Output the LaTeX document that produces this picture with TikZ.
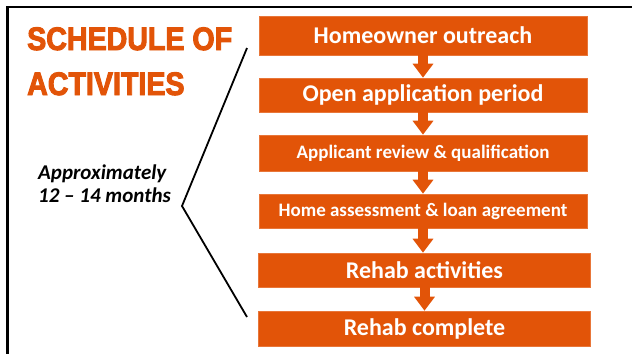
\documentclass[tikz,border=0pt]{standalone}
\usepackage{fontspec}
\setmainfont{Carlito}
\newfontfamily\headfont[FakeStretch=0.88,FakeBold=3]{Liberation Sans}
\usetikzlibrary{arrows.meta}
\definecolor{rust}{RGB}{226,84,8}
\begin{document}
\begin{tikzpicture}[x=1pt,y=-1pt,
  stage/.style={fill=rust,draw=rust!80!white,line width=0.6pt,text=white,
    font=\bfseries,minimum width=#1,inner sep=0pt,anchor=center},
  flow/.style={draw=rust,line width=10pt,-{Triangle[width=20pt,length=14pt]}},
  title/.style={text=rust,font=\headfont\bfseries\fontsize{32.5}{32}\selectfont,
    inner sep=0pt,anchor=base west},
  brace/.style={draw=black,line width=1.8pt,line join=miter}]
\useasboundingbox (0,0) rectangle (632,354);
% frame along the top and left edges
\draw[line width=2.6pt] (632,7) -- (7.5,7) -- (7.5,354);
% heading
\node[title] (h1) at (27,50) {SCHEDULE OF};
\node[title] (h2) at (27,95) {ACTIVITIES};
% stages
\node[stage=328pt,minimum height=39pt] (s1) at (423,35.5)
  {\fontsize{24}{24}\selectfont Homeowner outreach};
\node[stage=328pt,minimum height=34pt] (s2) at (423,95)
  {\fontsize{24}{24}\selectfont Open application period};
\node[stage=328pt,minimum height=36pt] (s3) at (423,153)
  {\fontsize{19}{19}\selectfont Applicant review \& qualification};
\node[stage=328pt,minimum height=34pt] (s4) at (423,211)
  {\fontsize{19}{19}\selectfont Home assessment \& loan agreement};
\node[stage=332pt,minimum height=34pt] (s5) at (424.5,270)
  {\fontsize{24}{24}\selectfont Rehab activities};
\node[stage=332pt,minimum height=35pt] (s6) at (424.5,328.5)
  {\fontsize{24}{24}\selectfont Rehab complete};
% arrows between stages
\foreach \a/\b in {s1/s2,s2/s3,s3/s4,s4/s5,s5/s6}
  \draw[flow] (\a.south) -- (\a.south |- \b.north);
% duration bracket
\coordinate (bt) at (247,48);
\coordinate (bm) at (182,206);
\coordinate (bb) at (247,317);
\draw[brace] (bt) -- (bm) -- (bb);
\node[font=\bfseries\itshape\fontsize{21}{23}\selectfont,align=left,inner sep=0pt,
  anchor=base west] (dur) at (38,202) {Approximately\\12 – 14 months};
\end{tikzpicture}
\end{document}
